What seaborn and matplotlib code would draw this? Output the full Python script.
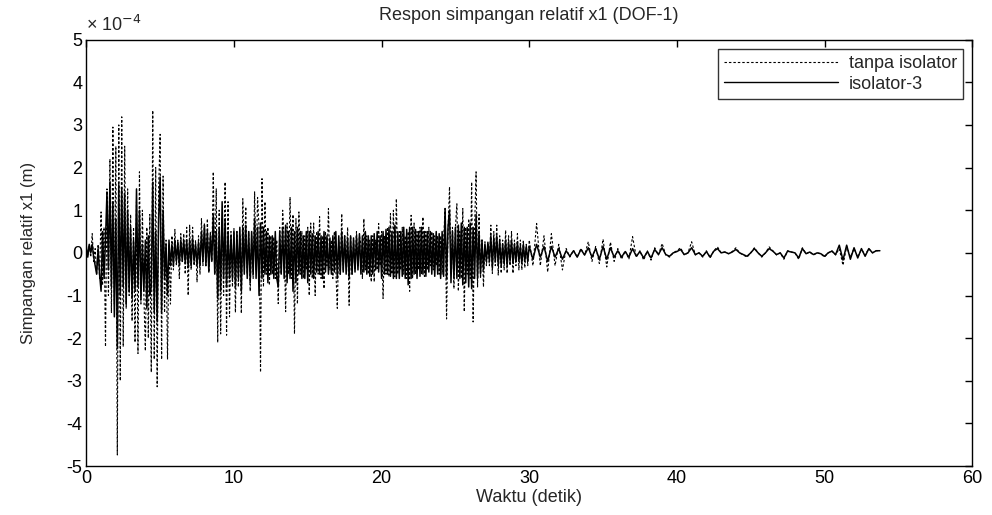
import numpy as np
import pandas as pd
import matplotlib
matplotlib.use("Agg")
import matplotlib.pyplot as plt
import seaborn as sns

# nilai puncak, satuan 1e-4 m
# bagian 1: 0 - 29.9 detik, langkah 0.1 detik
# bagian 2: 30 - 53.75 detik, langkah 0.25 detik
tanpa_1 = [
    0.1, -0.05, 0.2, -0.1, 0.45, -0.2, 0.1, -0.5, 0.2, -0.6,
    0.96, -0.76, 0.6, -2.2, 1.5, -1.0, 2.2, -1.4, 2.95, -1.2,
    2.5, -4.74, 3.0, -3.0, 3.19, -2.2, 2.5, -1.3, 1.5, -1.0,
    0.9, -1.6, 0.6, -2.1, 1.2, -2.36, 1.9, -1.2, 1.0, -1.0,
    -2.3, 0.6, -2.0, 0.9, -2.8, 3.34, -2.5, 2.0, -3.14, 1.5,
    2.78, -2.5, 1.8, -1.4, 0.3, -2.5, 0.2, -1.2, 0.4, -0.4,
    0.55, -0.3, 0.3, -0.6, 0.45, -0.2, 0.45, -0.5, 0.6, -1.0,
    0.65, -0.4, 0.6, -0.3, 0.3, -0.68, 0.4, -0.5, 0.8, -0.3,
    0.7, -0.3, 0.8, -0.45, 0.5, -0.2, 1.9, -0.5, 1.5, -2.1,
    1.0, -1.9, 0.8, -1.0, 1.66, -1.93, 1.2, -1.5, 0.5, -0.8,
    0.57, -1.4, 0.5, -0.8, 0.4, -1.42, 1.27, -0.3, 1.08, -0.5,
    0.5, -0.9, 0.4, -0.6, 1.43, -0.4, 1.3, 0.6, -2.8, 1.74,
    -0.8, 1.2, -0.5, 0.6, -0.76, 0.4, -0.5, 0.37, -0.6, 0.3,
    -1.19, 0.6, -0.5, 1.0, 0.3, -1.38, 0.7, -0.5, 1.31, -0.6,
    0.9, -1.9, 0.8, -1.2, 0.96, -0.5, 0.5, -0.6, 0.4, -0.4,
    0.6, -1.0, 0.7, -0.6, 0.7, -1.0, 0.5, -0.5, 0.85, -0.6,
    0.4, -0.84, 0.5, -0.3, 1.04, -0.4, 0.3, -0.6, 0.5, -0.4,
    -1.3, 0.3, -0.5, 0.92, -0.4, 0.4, -0.3, 0.6, -1.23, 0.4,
    -0.5, 0.3, -0.4, 0.5, -0.3, 0.4, 0.2, -0.6, 0.8, -0.4,
    0.4, -0.5, 0.3, -0.68, 0.4, -0.68, 0.3, -0.4, 0.69, -0.3,
    0.5, -1.07, 0.4, -0.5, 0.6, -0.56, 0.92, -0.5, 1.0, -0.56,
    1.27, -0.5, 0.5, -0.4, 0.6, -0.5, 0.4, -0.6, 0.5, -0.9,
    0.88, -0.6, 0.7, -0.5, 0.5, -0.4, 0.6, -0.5, 0.84, -0.55,
    0.5, -0.4, 0.6, -0.3, 0.5, -0.4, 0.4, -0.3, 0.4, -0.5,
    0.4, -0.5, 0.3, 1.04, -1.55, 0.5, 1.55, -0.5, 0.6, -0.84,
    0.6, 1.15, -0.9, 0.5, -0.6, 1.04, -1.38, 0.6, -0.5, 0.8,
    -0.6, 1.66, -1.62, 0.6, 1.9, -0.8, 0.9, -0.6, 0.3, -0.8,
    0.26, -0.3, 0.2, -0.3, 0.65, -0.48, 0.5, -0.3, 0.65, -0.52,
    0.4, -0.48, 0.3, -0.4, 0.53, -0.48, 0.4, -0.3, 0.5, -0.48,
    0.3, -0.3, 0.45, -0.4, 0.3, -0.4, 0.3, -0.35, 0.2, -0.3,
]
tanpa_2 = [
    0.3, -0.3, 0.69, -0.3,
    0.4, -0.45, 0.45, -0.3,
    0.2, -0.4, 0.1, -0.1,
    0.06, -0.1, 0.1, -0.05,
    0.26, -0.2, 0.15, -0.25,
    0.32, -0.33, 0.25, -0.2,
    0.1, -0.15, 0.05, -0.15,
    0.38, -0.1, 0.05, -0.17,
    0.05, -0.17, 0.12, -0.05,
    0.22, -0.05, -0.1, 0.0,
    0.05, 0.12, -0.05, 0.0,
    0.26, -0.05, 0.0, -0.1,
    0.05, -0.12, 0.05, 0.14,
    0.0, 0.02, -0.02, 0.03,
    0.12, 0.0, -0.05, -0.1,
    0.0, 0.12, 0.0, -0.1,
    0.0, 0.14, 0.05, -0.05,
    0.0, -0.15, 0.05, 0.02,
    0.0, -0.15, 0.12, -0.02,
    0.02, -0.05, 0.0, -0.02,
    -0.1, 0.0, 0.05, -0.05,
    0.1, -0.29, 0.15, -0.1,
    0.1, -0.1, 0.08, -0.05,
    0.1, 0.0, 0.05, 0.05,
]
iso3_1 = [
    0.15, -0.1, 0.2, 0.0, 0.2, -0.1, -0.3, -0.5, 0.1, -0.5,
    -0.9, 0.5, -0.6, 0.3, 1.43, -0.4, 1.66, -0.8, 1.2, -1.5,
    0.8, -2.24, 1.6, -1.0, 1.5, -0.8, 1.4, -1.2, 1.0, -0.9,
    0.6, -1.07, 0.3, -0.9, 1.5, -0.8, 1.0, -1.07, 0.2, -0.9,
    0.3, -1.3, 0.4, -1.0, -0.8, 1.66, -1.38, 0.5, -1.62, 0.8,
    1.78, -1.38, 1.0, -0.6, 0.2, -1.0, 0.3, -0.3, 0.2, -0.3,
    0.3, -0.2, 0.25, -0.3, 0.3, -0.2, 0.3, -0.25, 0.3, -0.35,
    0.3, -0.3, 0.35, -0.2, 0.2, -0.3, 0.25, -0.3, 0.5, -0.2,
    0.65, -0.3, 0.5, -0.45, 0.4, -0.2, 0.9, -0.5, 0.5, -1.07,
    0.6, -0.9, 1.2, -0.6, 0.8, -0.8, 0.5, -0.6, 0.4, -0.6,
    0.5, -0.8, 0.5, -0.6, 0.6, -0.9, 0.6, -0.5, 0.65, -0.6,
    0.5, -0.7, 0.5, -0.5, 0.8, -0.6, 0.6, -1.0, 0.7, -0.6,
    0.6, -0.5, 0.5, -0.7, 0.4, -0.5, 0.4, -0.6, 0.5, -0.6,
    -0.8, 0.5, -0.5, 0.6, -0.6, 0.65, -0.7, 0.5, -0.6, 0.6,
    -0.9, 0.5, -0.7, 0.6, -0.5, 0.5, -0.6, 0.4, -0.6, 0.5,
    -0.7, 0.5, -0.5, 0.45, -0.6, 0.4, -0.45, 0.5, -0.5, 0.4,
    -0.6, 0.5, -0.45, 0.4, -0.5, 0.35, -0.5, 0.4, -0.45, 0.5,
    -0.6, 0.4, -0.5, 0.5, -0.45, 0.4, -0.5, 0.35, -0.6, 0.4,
    -0.5, 0.35, -0.45, 0.4, -0.4, 0.45, -0.5, 0.4, -0.45, 0.5,
    -0.5, 0.4, -0.55, 0.4, -0.5, 0.45, -0.4, 0.5, -0.45, 0.4,
    -0.6, 0.5, -0.5, 0.55, -0.5, 0.6, -0.55, 0.5, -0.6, 0.65,
    -0.6, 0.5, -0.6, 0.5, -0.55, 0.6, -0.6, 0.55, -0.75, 0.6,
    -0.6, 0.6, -0.5, 0.55, -0.6, 0.5, -0.55, 0.6, -0.5, 0.5,
    -0.55, 0.5, -0.45, 0.5, -0.5, 0.45, -0.55, 0.5, -0.5, 0.45,
    -0.6, 0.5, -0.55, 1.04, -0.6, 0.6, 1.0, -0.7, 0.5, -0.6,
    0.6, -0.6, 0.65, -0.6, 0.7, -0.75, 0.6, -0.7, 0.6, -0.8,
    0.7, -0.84, 0.6, -0.6, 0.9, -0.6, 0.5, -0.5, 0.3, -0.4,
    0.2, -0.2, 0.25, -0.2, 0.4, -0.35, 0.35, -0.2, 0.4, -0.3,
    0.3, -0.3, 0.2, -0.25, 0.3, -0.3, 0.25, -0.2, 0.3, -0.25,
    0.2, -0.2, 0.25, -0.2, 0.15, -0.25, 0.2, -0.2, 0.15, -0.2,
]
iso3_2 = [
    0.15, -0.15, 0.2, -0.1,
    0.15, -0.2, 0.15, -0.1,
    0.1, -0.15, 0.05, -0.08,
    0.05, -0.1, 0.08, -0.05,
    0.12, -0.1, 0.1, -0.15,
    0.15, -0.15, 0.12, -0.1,
    0.05, -0.1, 0.03, -0.1,
    0.1, -0.08, 0.03, -0.12,
    0.03, -0.12, 0.08, -0.04,
    0.12, -0.04, -0.08, 0.0,
    0.03, 0.08, -0.04, 0.0,
    0.12, -0.04, 0.0, -0.08,
    0.03, -0.1, 0.04, 0.1,
    0.0, 0.02, -0.02, 0.02,
    0.08, 0.0, -0.04, -0.08,
    0.0, 0.1, 0.0, -0.08,
    0.0, 0.1, 0.04, -0.04,
    0.0, -0.12, 0.04, 0.02,
    0.0, -0.12, 0.1, -0.02,
    0.02, -0.04, 0.0, -0.02,
    -0.08, 0.0, 0.04, -0.04,
    0.18, -0.17, 0.18, -0.15,
    0.12, -0.12, 0.1, -0.08,
    0.1, 0.0, 0.05, 0.05,
]

# sumbu waktu (detik)
t1 = np.arange(len(tanpa_1)) * 0.1
t2 = 30 + np.arange(len(tanpa_2)) * 0.25
waktu = np.concatenate([t1, t2])

df = pd.DataFrame({
    'waktu': waktu,
    'tanpa': np.concatenate([tanpa_1, tanpa_2]),
    'iso3': np.concatenate([iso3_1, iso3_2]),
})

sns.set_style("white")
plt.rcParams['font.family'] = ['Liberation Sans', 'DejaVu Sans']
plt.rcParams['axes.unicode_minus'] = False

fig = plt.figure(figsize=(9.92, 5.15), dpi=100)
ax = fig.add_axes([0.087, 0.095, 0.893, 0.828])

sns.lineplot(data=df, x='waktu', y='tanpa', ax=ax, color='black', lw=0.8,
             ls=(0, (2.2, 1.8)), estimator=None, sort=False, label='tanpa isolator')
sns.lineplot(data=df, x='waktu', y='iso3', ax=ax, color='black', lw=1.1,
             estimator=None, sort=False, label='isolator-3')

ax.set_xlim(0, 60)
ax.set_ylim(-5, 5)
ax.set_xticks(range(0, 61, 10))
ax.set_yticks(range(-5, 6))
ax.tick_params(direction='in', length=5, width=1, top=True, right=True,
               labelsize=13, colors='black', pad=3)
for s in ax.spines.values():
    s.set_color('black')
    s.set_linewidth(1)

ax.set_xlabel('Waktu (detik)', fontsize=13, labelpad=1)
ax.set_ylabel('Simpangan relatif x1 (m)', fontsize=12, labelpad=22)
ax.set_title('Respon simpangan relatif x1 (DOF-1)', fontsize=13, pad=14)
ax.text(0.0, 1.012, '× 10$^{-4}$', transform=ax.transAxes, fontsize=13,
        ha='left', va='bottom')

leg = ax.legend(loc='upper right', fontsize=13, handlelength=6.3,
                frameon=True, fancybox=False, borderaxespad=0.5,
                borderpad=0.35, labelspacing=0.2, handletextpad=0.6)
leg.get_frame().set_edgecolor('black')
leg.get_frame().set_linewidth(1)
leg.get_lines()[1].set_linewidth(1.0)

fig.savefig('out.png', dpi=100)
